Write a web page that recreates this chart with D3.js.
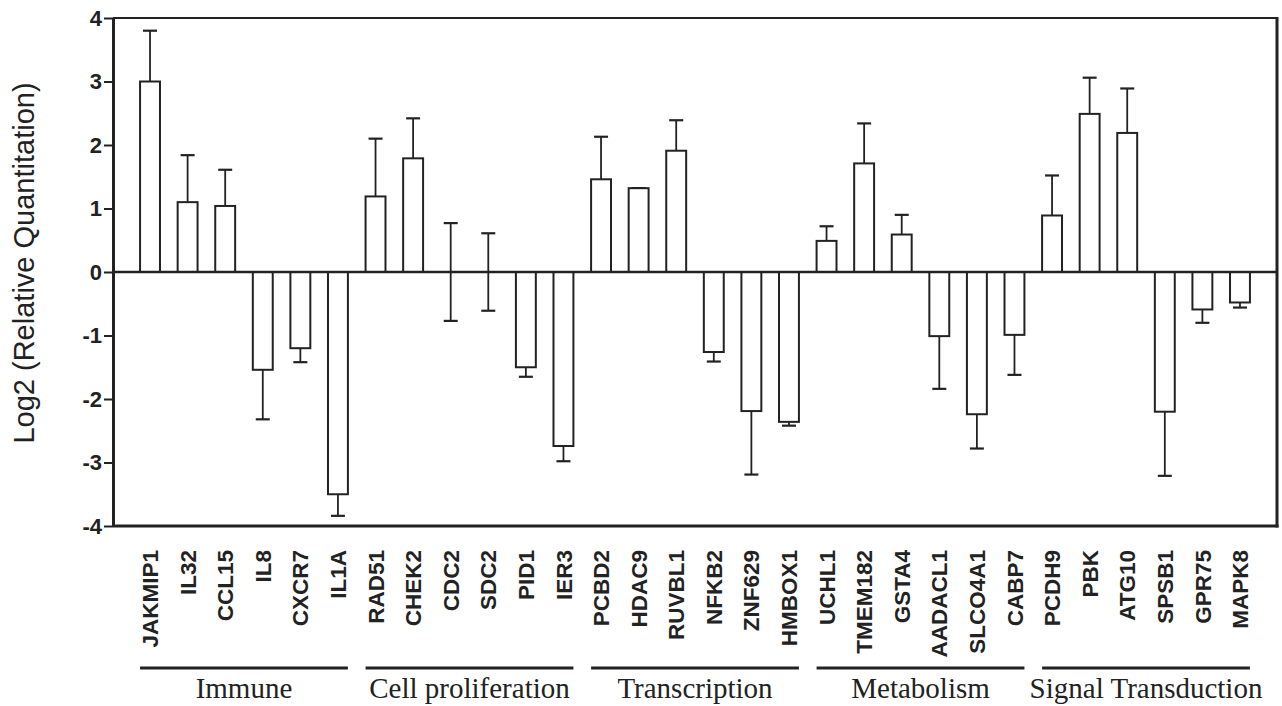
<!DOCTYPE html>
<html>
<head>
<meta charset="utf-8">
<script src="https://cdn.jsdelivr.net/npm/d3@7"></script>
<style>
	body { margin: 0; background: #fff; }
	svg { display: block; }
</style>
</head>
<body>
<svg id="chartSVG" width="1282" height="706"></svg>
<script>
var genes = ["JAKMIP1", "IL32", "CCL15", "IL8", "CXCR7", "IL1A",
			 "RAD51", "CHEK2", "CDC2", "SDC2", "PID1", "IER3",
			 "PCBD2", "HDAC9", "RUVBL1", "NFKB2", "ZNF629", "HMBOX1",
			 "UCHL1", "TMEM182", "GSTA4", "AADACL1", "SLCO4A1", "CABP7",
			 "PCDH9", "PBK", "ATG10", "SPSB1", "GPR75", "MAPK8"];
var values = [3.00, 1.10, 1.04, -1.54, -1.20, -3.50,
			  1.19, 1.79, 0.00, 0.00, -1.50, -2.74,
			  1.46, 1.32, 1.91, -1.26, -2.19, -2.36,
			  0.49, 1.71, 0.59, -1.01, -2.24, -0.99,
			  0.89, 2.49, 2.19, -2.20, -0.59, -0.48];
var errors = [0.80, 0.74, 0.57, 0.78, 0.22, 0.34,
			  0.91, 0.63, 0.77, 0.61, 0.15, 0.24,
			  0.67, 0.00, 0.48, 0.15, 1.00, 0.06,
			  0.23, 0.63, 0.31, 0.83, 0.54, 0.63,
			  0.63, 0.57, 0.70, 1.01, 0.21, 0.08];
var groups = ["Immune", "Cell proliferation", "Transcription", "Metabolism", "Signal Transduction"];
var groupSize = 6;
var yTicks = [-4, -3, -2, -1, 0, 1, 2, 3, 4];

drawChart();

function drawChart(){
	var svg = d3.select("#chartSVG");
	var left = 113, right = 1277, top = 18, bottom = 526;
	var ink = "#222";

	var x = d3.scaleBand()
		.domain(genes)
		.range([left, right])
		.paddingInner(0.47)
		.paddingOuter(0.72);

	var y = d3.scaleLinear()
		.domain([-4, 4])
		.range([bottom, top]);

	// error bars first, the white bars cover the inner half
	for (var i = 0; i < genes.length; i++) {
		var cx = x(genes[i]) + x.bandwidth() / 2;
		var lo = values[i] - errors[i], hi = values[i] + errors[i];
		svg.append('line')
			.attr('x1', cx).attr('x2', cx)
			.attr('y1', y(lo)).attr('y2', y(hi))
			.attr('stroke', ink).attr('stroke-width', 1.8);
		[lo, hi].forEach(function(v){
			svg.append('line')
				.attr('x1', cx - 7).attr('x2', cx + 7)
				.attr('y1', y(v)).attr('y2', y(v))
				.attr('stroke', ink).attr('stroke-width', 2.2);
		});
	}

	for (var i = 0; i < genes.length; i++) {
		svg.append('rect')
			.attr('x', x(genes[i]))
			.attr('width', x.bandwidth())
			.attr('y', y(Math.max(0, values[i])))
			.attr('height', Math.abs(y(values[i]) - y(0)))
			.attr('fill', "white")
			.attr('stroke', ink)
			.attr('stroke-width', 2);
	}

	// zero line
	svg.append('line')
		.attr('x1', left).attr('x2', right)
		.attr('y1', y(0)).attr('y2', y(0))
		.attr('stroke', ink).attr('stroke-width', 2.5);

	// frame
	svg.append('line').attr('x1', left).attr('x2', right).attr('y1', top).attr('y2', top)
		.attr('stroke', ink).attr('stroke-width', 2.2);
	svg.append('line').attr('x1', right).attr('x2', right).attr('y1', top - 1).attr('y2', bottom + 1.5)
		.attr('stroke', ink).attr('stroke-width', 3);
	svg.append('line').attr('x1', left).attr('x2', right + 1.5).attr('y1', bottom).attr('y2', bottom)
		.attr('stroke', ink).attr('stroke-width', 3);

	var yAxis = svg.append('g')
		.attr('transform', "translate(" + left + ",0)")
		.call(d3.axisLeft(y).tickValues(yTicks).tickSize(9).tickSizeOuter(0).tickPadding(2)
			.tickFormat(function(d){ return String(d); }));
	yAxis.select('.domain').attr('stroke', ink).attr('stroke-width', 3);
	yAxis.selectAll('.tick line').attr('stroke', ink).attr('stroke-width', 2);
	yAxis.selectAll('.tick text')
		.attr('fill', ink)
		.style('font-family', "'Liberation Sans', Arial, sans-serif")
		.style('font-weight', "bold")
		.style('font-size', "22px");

	svg.append('text')
		.text("Log2 (Relative Quantitation)")
		.attr('transform', "translate(34,263) rotate(-90)")
		.attr('text-anchor', "middle")
		.attr('fill', ink)
		.style('font-family', "'Liberation Sans', Arial, sans-serif")
		.style('font-size', "29px");

	// gene labels
	for (var i = 0; i < genes.length; i++) {
		var cx = x(genes[i]) + x.bandwidth() / 2;
		svg.append('text')
			.text(genes[i])
			.attr('transform', "translate(" + cx + ",550) rotate(-90)")
			.attr('text-anchor', "end")
			.attr('dy', "0.36em")
			.attr('fill', ink)
			.style('font-family', "'Liberation Sans', Arial, sans-serif")
			.style('font-weight', "bold")
			.style('font-size', "22.5px");
	}

	// group lines and names
	for (var g = 0; g < groups.length; g++) {
		var first = genes[g * groupSize], last = genes[g * groupSize + groupSize - 1];
		var x1 = x(first), x2 = x(last) + x.bandwidth();
		svg.append('line')
			.attr('x1', x1).attr('x2', x2)
			.attr('y1', 668).attr('y2', 668)
			.attr('stroke', ink).attr('stroke-width', 3);
		svg.append('text')
			.text(groups[g])
			.attr('x', (x1 + x2) / 2)
			.attr('y', 698)
			.attr('text-anchor', "middle")
			.attr('fill', ink)
			.style('font-family', "'Liberation Serif', 'Times New Roman', serif")
			.style('font-size', "29px");
	}
}
</script>
</body>
</html>
